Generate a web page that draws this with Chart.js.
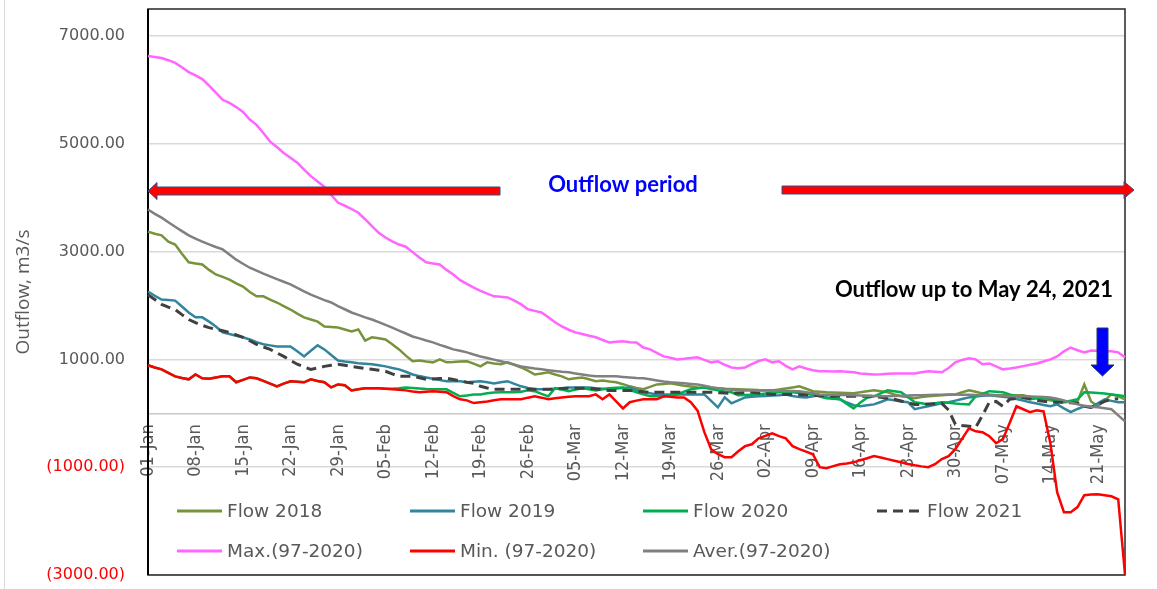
<!DOCTYPE html>
<html>
<head>
<meta charset="utf-8">
<script src="https://cdn.jsdelivr.net/npm/chart.js@4.4.0/dist/chart.umd.min.js"></script>
<style>
  html, body { margin: 0; padding: 0; background: #fff; }
  #wrap { width: 1157px; height: 589px; position: relative; }
</style>
</head>
<body>
<div id="wrap"><canvas id="chart"></canvas></div>
<script>
// daily categories, 01-Jan .. 25-May
const days = [
  '01-Jan','02-Jan','03-Jan','04-Jan','05-Jan','06-Jan','07-Jan','08-Jan','09-Jan','10-Jan','11-Jan','12-Jan','13-Jan','14-Jan','15-Jan','16-Jan',
  '17-Jan','18-Jan','19-Jan','20-Jan','21-Jan','22-Jan','23-Jan','24-Jan','25-Jan','26-Jan','27-Jan','28-Jan','29-Jan','30-Jan','31-Jan',
  '01-Feb','02-Feb','03-Feb','04-Feb','05-Feb','06-Feb','07-Feb','08-Feb','09-Feb','10-Feb','11-Feb','12-Feb','13-Feb','14-Feb',
  '15-Feb','16-Feb','17-Feb','18-Feb','19-Feb','20-Feb','21-Feb','22-Feb','23-Feb','24-Feb','25-Feb','26-Feb','27-Feb','28-Feb',
  '01-Mar','02-Mar','03-Mar','04-Mar','05-Mar','06-Mar','07-Mar','08-Mar','09-Mar','10-Mar','11-Mar','12-Mar','13-Mar','14-Mar','15-Mar','16-Mar',
  '17-Mar','18-Mar','19-Mar','20-Mar','21-Mar','22-Mar','23-Mar','24-Mar','25-Mar','26-Mar','27-Mar','28-Mar','29-Mar','30-Mar','31-Mar',
  '01-Apr','02-Apr','03-Apr','04-Apr','05-Apr','06-Apr','07-Apr','08-Apr','09-Apr','10-Apr','11-Apr','12-Apr','13-Apr','14-Apr','15-Apr',
  '16-Apr','17-Apr','18-Apr','19-Apr','20-Apr','21-Apr','22-Apr','23-Apr','24-Apr','25-Apr','26-Apr','27-Apr','28-Apr','29-Apr','30-Apr',
  '01-May','02-May','03-May','04-May','05-May','06-May','07-May','08-May','09-May','10-May','11-May','12-May','13-May','14-May','15-May',
  '16-May','17-May','18-May','19-May','20-May','21-May','22-May','23-May','24-May','25-May'
];

const yTicks = [-3000, -1000, 1000, 3000, 5000, 7000];

const flow2018 = [
  3370,3330,3300,3185,3130,2960,2800,2780,2760,2660,
  2575,2530,2480,2410,2350,2250,2170,2170,2110,2055,
  1990,1925,1850,1780,1740,1700,1610,1600,1590,1555,
  1520,1555,1350,1410,1390,1370,1280,1185,1070,965,
  980,960,945,1000,945,950,960,965,920,870,
  945,925,910,945,900,850,790,720,740,760,
  720,685,630,650,665,630,595,610,590,575,
  540,500,470,445,490,535,545,555,535,510,
  495,480,475,470,465,455,450,445,440,435,
  430,428,425,440,460,480,500,455,410,400,
  390,385,380,375,370,390,410,425,410,390,
  350,315,300,280,300,315,325,335,345,350,
  390,425,400,370,350,335,335,335,335,335,
  305,280,260,240,220,205,212,220,535,220,
  130,240,350,315,260
];

const flow2019 = [
  2260,2180,2110,2100,2090,1980,1870,1780,1780,1700,
  1610,1500,1470,1440,1410,1370,1320,1280,1260,1240,
  1240,1240,1150,1055,1160,1260,1185,1080,980,960,
  945,930,920,910,890,870,840,815,770,720,
  690,665,640,615,595,595,595,575,585,595,
  575,555,575,595,545,500,470,445,445,445,
  455,465,480,480,480,480,465,455,445,460,
  470,480,430,390,370,350,350,350,350,350,
  350,350,350,230,110,295,185,240,295,305,
  315,322,328,335,350,320,300,295,315,335,
  300,280,260,200,150,130,150,165,210,260,
  240,220,205,75,105,130,160,185,205,235,
  265,295,310,325,335,320,305,295,265,235,
  205,180,155,130,165,90,20,80,130,110,
  185,260,230,205,205
];

const flow2020 = [
  890,850,815,750,685,655,630,720,650,640,
  665,685,685,575,620,665,650,600,550,500,
  550,595,585,575,630,600,575,480,535,520,
  425,445,465,465,465,455,455,465,480,470,
  460,450,445,445,445,380,315,330,350,350,
  370,385,390,390,390,400,425,410,360,315,
  465,440,410,440,465,445,425,445,465,475,
  480,435,390,350,315,315,315,330,350,400,
  445,465,480,450,425,405,390,335,340,345,
  350,365,380,390,390,390,375,360,350,310,
  280,270,260,175,90,200,290,315,370,425,
  410,390,300,205,185,165,185,205,195,180,
  170,165,315,360,410,400,390,350,315,280,
  260,280,295,265,235,210,235,260,390,385,
  375,365,350,335,315
];

const flow2021 = [
  2200,2110,2020,1970,1925,1830,1740,1680,1630,1590,
  1555,1530,1500,1455,1410,1345,1280,1230,1185,1120,
  1055,980,910,860,815,840,870,890,910,890,
  870,850,830,815,800,780,730,685,685,685,
  660,630,635,645,650,625,600,575,555,500,
  470,445,445,445,445,445,445,445,445,445,
  450,458,465,465,465,465,450,435,425,425,
  425,425,412,400,390,390,390,390,390,390,
  390,390,390,390,383,376,370,377,385,390,
  377,363,350,350,350,350,345,340,335,328,
  322,315,315,315,315,315,315,315,297,278,
  260,228,196,165,165,172,178,185,60,-205,
  -225,-240,-260,-40,205,220,130,260,278,295,
  268,240,222,205,205,205,195,185,130,110,
  165,220,260,270,null
];

const maxFlow = [
  6630,6610,6590,6550,6500,6420,6330,6270,6200,6080,
  5950,5815,5760,5680,5590,5450,5350,5200,5040,4940,
  4830,4740,4650,4520,4400,4300,4200,4050,3910,3850,
  3790,3720,3600,3470,3350,3260,3190,3130,3090,2990,
  2890,2800,2780,2760,2660,2575,2470,2400,2330,2270,
  2220,2170,2160,2150,2090,2020,1930,1900,1870,1780,
  1690,1610,1550,1500,1470,1440,1410,1360,1315,1325,
  1335,1320,1315,1220,1185,1120,1055,1030,1000,1010,
  1025,1040,990,945,965,900,850,835,850,910,
  970,1000,945,965,880,815,870,830,800,780,
  780,775,780,770,760,740,730,720,725,735,
  740,740,740,740,760,780,770,760,840,945,
  990,1020,1000,910,925,870,815,830,850,875,
  900,925,960,1000,1055,1150,1220,1170,1130,1165,
  1160,1155,1150,1130,1040
];

const minFlow = [
  890,850,815,750,685,655,630,720,650,640,
  665,685,685,575,620,665,650,600,550,500,
  550,595,585,575,630,600,575,480,535,520,
  425,445,465,465,465,455,445,435,425,405,
  390,400,410,400,390,320,260,240,190,205,
  220,240,260,260,260,260,290,315,290,260,
  280,295,305,315,315,315,350,260,350,220,
  90,205,235,260,260,260,315,305,295,295,
  205,50,-350,-665,-760,-815,-815,-705,-610,-575,
  -465,-420,-370,-425,-465,-610,-665,-710,-760,-1000,
  -1020,-980,-945,-930,-910,-870,-835,-795,-820,-850,
  -880,-910,-940,-965,-985,-1000,-945,-850,-795,-665,
  -470,-280,-335,-350,-425,-555,-480,-180,130,75,
  20,55,35,-555,-1465,-1835,-1835,-1740,-1520,-1505,
  -1500,-1520,-1540,-1595,-2990
];

const averFlow = [
  3780,3700,3630,3545,3460,3380,3300,3240,3185,3135,
  3085,3040,2945,2850,2775,2700,2645,2590,2540,2490,
  2440,2390,2325,2260,2200,2150,2100,2055,1990,1930,
  1870,1825,1780,1740,1690,1640,1590,1535,1480,1425,
  1390,1350,1315,1270,1230,1185,1160,1130,1090,1055,
  1025,995,965,935,900,870,850,830,815,800,
  785,770,760,740,720,700,685,685,685,685,
  675,665,655,650,630,610,590,575,565,555,
  545,535,510,485,465,450,435,425,425,425,
  425,425,425,420,415,412,410,390,370,350,
  345,342,340,337,335,330,325,320,317,315,
  320,325,330,333,335,338,342,345,348,350,
  345,342,340,337,335,330,325,320,317,315,
  310,305,300,295,270,240,200,165,140,120,
  110,95,75,-40,-150
];

const series = [
  { label: 'Flow 2018', data: flow2018, color: '#77933C' },
  { label: 'Flow 2019', data: flow2019, color: '#31859C' },
  { label: 'Flow 2020', data: flow2020, color: '#00B050' },
  { label: 'Flow 2021', data: flow2021, color: '#404040', dash: [10, 6] },
  { label: 'Max.(97-2020)', data: maxFlow, color: '#FF66FF' },
  { label: 'Min. (97-2020)', data: minFlow, color: '#FF0000' },
  { label: 'Aver.(97-2020)', data: averFlow, color: '#808080' }
];

const GREY = '#595959';

function hArrow(ctx, tail, tip, y, shaft, head, headLen) {
  const dir = tip > tail ? 1 : -1;
  const base = tip - dir * headLen;
  ctx.beginPath();
  ctx.moveTo(tail, y - shaft / 2);
  ctx.lineTo(base, y - shaft / 2);
  ctx.lineTo(base, y - head);
  ctx.lineTo(tip, y);
  ctx.lineTo(base, y + head);
  ctx.lineTo(base, y + shaft / 2);
  ctx.lineTo(tail, y + shaft / 2);
  ctx.closePath();
  ctx.fill();
  ctx.stroke();
}

const decor = {
  id: 'decor',
  beforeDatasetsDraw(chart) {
    const { ctx, chartArea: a } = chart;
    ctx.save();
    ctx.strokeStyle = '#D9D9D9';
    ctx.lineWidth = 1;
    ctx.beginPath();
    ctx.moveTo(4.5, 0);
    ctx.lineTo(4.5, chart.height);
    ctx.stroke();
    ctx.strokeStyle = '#262626';
    ctx.lineWidth = 1.5;
    ctx.strokeRect(a.left, a.top, a.right - a.left, a.bottom - a.top);
    ctx.lineWidth = 2;
    ctx.strokeStyle = '#000';
    ctx.beginPath();
    ctx.moveTo(a.left, a.top);
    ctx.lineTo(a.left, a.bottom);
    ctx.stroke();
    ctx.restore();
  },
  afterDatasetsDraw(chart) {
    const { ctx } = chart;
    ctx.save();

    // outflow period arrows
    ctx.fillStyle = '#FF0000';
    ctx.strokeStyle = '#2F528F';
    ctx.lineWidth = 1;
    hArrow(ctx, 500, 148, 191, 8, 8.5, 9);
    hArrow(ctx, 782, 1134, 190, 8, 8.5, 10);

    ctx.font = 'bold 22px Lato';
    ctx.textBaseline = 'alphabetic';
    ctx.fillStyle = '#0000FF';
    ctx.textAlign = 'center';
    ctx.fillText('Outflow period', 623, 192);

    ctx.fillStyle = '#000';
    ctx.textAlign = 'right';
    ctx.fillText('Outflow up to May 24, 2021', 1113, 297);

    // blue down arrow
    ctx.fillStyle = '#0000FF';
    ctx.strokeStyle = '#1F3864';
    const cx = 1102.5;
    ctx.beginPath();
    ctx.moveTo(cx - 5.5, 328);
    ctx.lineTo(cx + 5.5, 328);
    ctx.lineTo(cx + 5.5, 365);
    ctx.lineTo(cx + 11.5, 365);
    ctx.lineTo(cx, 376);
    ctx.lineTo(cx - 11.5, 365);
    ctx.lineTo(cx - 5.5, 365);
    ctx.closePath();
    ctx.fill();
    ctx.stroke();

    // legend inside plot
    const cols = [177, 410, 643, 877];
    const rows = [511, 551];
    ctx.textAlign = 'left';
    ctx.textBaseline = 'middle';
    ctx.font = '18.5px "DejaVu Sans"';
    chart.data.datasets.forEach((ds, i) => {
      const x = cols[i % 4];
      const y = rows[Math.floor(i / 4)];
      ctx.strokeStyle = ds.borderColor;
      ctx.lineWidth = 3;
      ctx.setLineDash(ds.borderDash || []);
      ctx.beginPath();
      ctx.moveTo(x, y);
      ctx.lineTo(x + 45, y);
      ctx.stroke();
      ctx.setLineDash([]);
      ctx.fillStyle = GREY;
      ctx.fillText(ds.label, x + 50, y + 1);
    });
    ctx.restore();
  }
};

new Chart(document.getElementById('chart'), {
  type: 'line',
  data: {
    labels: days,
    datasets: series.map((s, i) => ({
      label: s.label,
      data: s.data,
      borderColor: s.color,
      backgroundColor: s.color,
      borderWidth: s.dash ? 3 : 2.5,
      borderDash: s.dash || [],
      pointRadius: 0,
      tension: 0,
      fill: false,
      order: series.length - i
    }))
  },
  options: {
    responsive: true,
    maintainAspectRatio: false,
    animation: false,
    layout: { padding: { left: 0, right: 32, top: 9, bottom: 14 } },
    plugins: {
      legend: { display: false },
      tooltip: { enabled: false }
    },
    scales: {
      x: {
        type: 'category',
        position: { y: 0 },
        offset: false,
        grid: { display: false, drawTicks: false },
        border: { display: true, color: '#C8C8C8', width: 1.5 },
        ticks: {
          autoSkip: false,
          minRotation: 90,
          maxRotation: 90,
          padding: 11,
          color: GREY,
          font: { family: "'Liberation Sans Narrow', 'DejaVu Sans Condensed', sans-serif", size: 18 },
          callback: (v, i) => (i % 7 === 0 ? days[i] : '')
        },
        afterFit: (scale) => {
          scale.height = 0;
          scale.paddingLeft = 0;
          scale.paddingRight = 0;
        }
      },
      y: {
        min: -3000,
        max: 7500,
        position: 'left',
        grid: { color: '#D9D9D9', lineWidth: 1.5, drawTicks: false },
        border: { display: false },
        afterBuildTicks: (scale) => { scale.ticks = yTicks.map(v => ({ value: v })); },
        afterFit: (scale) => {
          scale.width = 148;
          scale.paddingTop = 0;
          scale.paddingBottom = 0;
        },
        ticks: {
          padding: 23,
          font: { family: 'DejaVu Sans', size: 16 },
          color: (c) => (c.tick && c.tick.value < 0 ? '#FF0000' : GREY),
          callback: (v) => (v < 0 ? '(' + Math.abs(v).toFixed(2) + ')' : v.toFixed(2))
        },
        title: {
          display: true,
          text: 'Outflow, m3/s',
          color: GREY,
          font: { family: 'Open Sans', size: 19 },
          padding: { top: 12, bottom: 0 }
        }
      }
    }
  },
  plugins: [decor]
});
</script>
</body>
</html>
